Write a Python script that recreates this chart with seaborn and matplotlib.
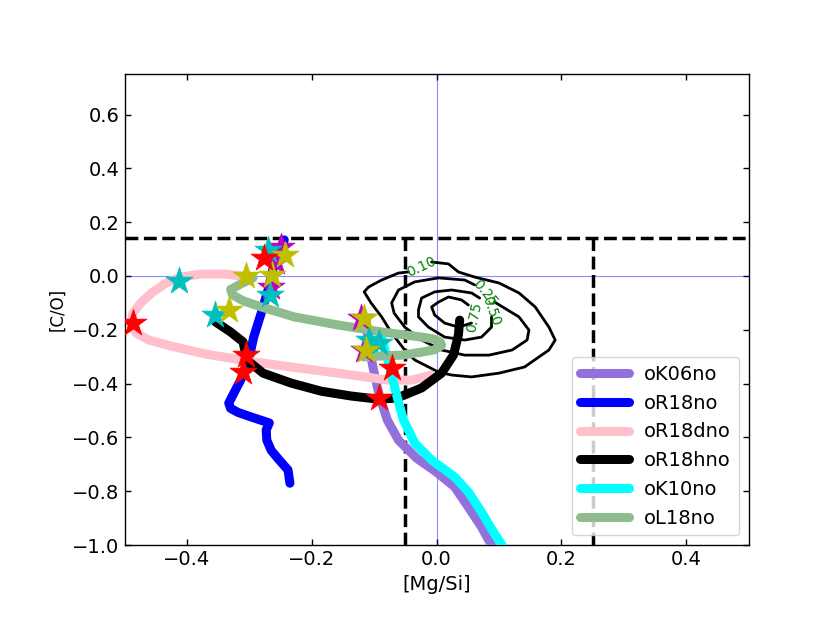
import numpy as np
import pandas as pd
import matplotlib
matplotlib.use("Agg")
import matplotlib.pyplot as plt
import seaborn as sns

# ---------------- data ----------------
oK06no_x = [-0.113, -0.109, -0.101, -0.092, -0.079, -0.061, -0.032, 0.000, 0.029, 0.051, 0.072, 0.088, 0.096]
oK06no_y = [-0.164, -0.257, -0.349, -0.442, -0.535, -0.610, -0.677, -0.729, -0.784, -0.859, -0.933, -1.000, -1.037]

oR18no_x = [-0.244, -0.260, -0.270, -0.281, -0.293, -0.302, -0.314, -0.333, -0.330, -0.318, -0.297, -0.268, -0.273, -0.272, -0.265, -0.252, -0.238, -0.235]
oR18no_y = [0.134, 0.048, -0.052, -0.138, -0.227, -0.323, -0.387, -0.472, -0.492, -0.507, -0.524, -0.546, -0.572, -0.610, -0.648, -0.684, -0.721, -0.770]

oR18dno_x = [-0.297, -0.338, -0.378, -0.410, -0.433, -0.455, -0.474, -0.487, -0.490, -0.481, -0.462, -0.426, -0.370, -0.302, -0.233, -0.158, -0.077, -0.040, -0.008]
oR18dno_y = [-0.004, 0.007, 0.007, -0.004, -0.026, -0.060, -0.100, -0.140, -0.180, -0.212, -0.237, -0.260, -0.290, -0.316, -0.338, -0.361, -0.387, -0.387, -0.368]

oR18hno_x = [-0.354, -0.330, -0.310, -0.304, -0.278, -0.233, -0.185, -0.137, -0.096, -0.064, -0.024, 0.008, 0.027, 0.035, 0.037]
oR18hno_y = [-0.171, -0.208, -0.245, -0.312, -0.361, -0.398, -0.428, -0.446, -0.457, -0.454, -0.416, -0.361, -0.294, -0.219, -0.164]

oK10no_x = [-0.088, -0.076, -0.064, -0.053, -0.035, -0.008, 0.029, 0.051, 0.072, 0.092, 0.105, 0.113]
oK10no_y = [-0.230, -0.331, -0.442, -0.535, -0.621, -0.684, -0.747, -0.803, -0.877, -0.955, -1.000, -1.030]

oL18no_x = [-0.294, -0.314, -0.330, -0.327, -0.310, -0.281, -0.228, -0.158, -0.088, -0.024, -0.005, 0.006, 0.008, -0.003, -0.024, -0.056, -0.088, -0.117]
oL18no_y = [-0.007, -0.030, -0.050, -0.070, -0.092, -0.115, -0.152, -0.182, -0.208, -0.227, -0.234, -0.245, -0.258, -0.274, -0.283, -0.294, -0.297, -0.301]

models = ["oK06no", "oR18no", "oR18dno", "oR18hno", "oK10no", "oL18no"]
model_colors = ["mediumpurple", "blue", "pink", "black", "cyan", "darkseagreen"]
model_x = [oK06no_x, oR18no_x, oR18dno_x, oR18hno_x, oK10no_x, oL18no_x]
model_y = [oK06no_y, oR18no_y, oR18dno_y, oR18hno_y, oK10no_y, oL18no_y]

# star markers
star_m_x = [-0.249, -0.265, -0.121, -0.116, -0.257]
star_m_y = [0.108, -0.041, -0.156, -0.275, 0.052]
star_c_x = [-0.413, -0.355, -0.267, -0.270, -0.109, -0.092]
star_c_y = [-0.019, -0.145, -0.071, 0.097, -0.238, -0.249]
star_y_x = [-0.305, -0.333, -0.243, -0.264, -0.117, -0.113]
star_y_y = [0.000, -0.126, 0.078, 0.004, -0.156, -0.275]
star_r_x = [-0.486, -0.305, -0.310, -0.277, -0.072, -0.093]
star_r_y = [-0.175, -0.294, -0.357, 0.067, -0.342, -0.454]

# density contours (levels 0.10, 0.25, 0.50, 0.75)
c10_x = [-0.008, 0.019, 0.035, 0.061, 0.100, 0.132, 0.158, 0.180, 0.190, 0.180, 0.141, 0.100, 0.056, 0.024,
         0.003, -0.013, -0.035, -0.051, -0.072, -0.088, -0.105, -0.116, -0.109, -0.088, -0.061, -0.045]
c10_y = [0.052, 0.045, 0.015, -0.004, -0.026, -0.063, -0.115, -0.190, -0.238, -0.275, -0.338, -0.361, -0.375, -0.368,
         -0.357, -0.338, -0.312, -0.275, -0.212, -0.152, -0.100, -0.059, -0.041, -0.015, 0.011, 0.015]
c25_x = [0.093, 0.132, 0.148, 0.145, 0.121, 0.084, 0.045, 0.008, -0.024, -0.051, -0.068, -0.072, -0.061, -0.035, 0.003, 0.045, 0.061]
c25_y = [-0.097, -0.152, -0.201, -0.238, -0.275, -0.294, -0.294, -0.275, -0.238, -0.190, -0.138, -0.100, -0.052, -0.022, -0.007, -0.015, -0.033]
c50_x = [0.088, 0.088, 0.072, 0.045, 0.013, -0.013, -0.029, -0.029, -0.024, -0.003, 0.024, 0.056, 0.069]
c50_y = [-0.152, -0.190, -0.227, -0.238, -0.227, -0.190, -0.152, -0.126, -0.082, -0.059, -0.052, -0.063, -0.082]
c75_x = [0.056, 0.035, 0.013, -0.003, -0.008, 0.003, 0.019, 0.040, 0.051]
c75_y = [-0.175, -0.190, -0.175, -0.145, -0.115, -0.097, -0.078, -0.089, -0.108]
contour_labels = ["0.10", "0.25", "0.50", "0.75"]
contour_label_x = [-0.024, 0.077, 0.088, 0.061]
contour_label_y = [0.033, -0.063, -0.130, -0.152]
contour_label_rot = [25, -50, -70, 78]

# reference limits
co_limit = 0.14
mgsi_limits = [-0.05, 0.25]

# ---------------- plot ----------------
sns.set_style("ticks")
plt.rcParams['font.family'] = ['DejaVu Sans']
plt.rcParams.update({
    "axes.edgecolor": "black", "axes.labelcolor": "black", "text.color": "black",
    "xtick.color": "black", "ytick.color": "black", "axes.linewidth": 1.0,
})

fig, ax = plt.subplots(figsize=(8.3, 6.23), dpi=100)
fig.subplots_adjust(left=0.15, right=0.902, top=0.881, bottom=0.125)

ax.axhline(0, color="blue", lw=0.8, alpha=0.45, zorder=1)
ax.axvline(0, color="blue", lw=0.8, alpha=0.45, zorder=1)

for cx, cy in [(c10_x, c10_y), (c25_x, c25_y), (c50_x, c50_y), (c75_x, c75_y)]:
    ax.plot(cx, cy, color="black", lw=2, zorder=2)
for lab, lx, ly, rot in zip(contour_labels, contour_label_x, contour_label_y, contour_label_rot):
    ax.text(lx, ly, lab, color="green", fontsize=10, rotation=rot, ha="center", va="center", zorder=2)

ax.axhline(co_limit, color="black", lw=2.5, ls="--", zorder=3)
for xv in mgsi_limits:
    ax.plot([xv, xv], [-1.0, co_limit], color="black", lw=2.5, ls="--", zorder=3)

for name, col, xs, ys in zip(models, model_colors, model_x, model_y):
    df = pd.DataFrame({"x": xs, "y": ys})
    sns.lineplot(data=df, x="x", y="y", sort=False, estimator=None, color=col,
                 lw=6.5, label=name, ax=ax, zorder=4)

for sx, sy, col in [(star_m_x, star_m_y, "m"), (star_c_x, star_c_y, "c"),
                    (star_y_x, star_y_y, "y"), (star_r_x, star_r_y, "r")]:
    sns.scatterplot(x=sx, y=sy, marker="*", s=420, color=col, edgecolor=col,
                    linewidth=0.5, ax=ax, zorder=5, legend=False)

ax.set_xlim(-0.5, 0.5)
ax.set_ylim(-1.0, 0.75)
ax.set_xticks([-0.4, -0.2, 0.0, 0.2, 0.4])
ax.set_yticks([-1.0, -0.8, -0.6, -0.4, -0.2, 0.0, 0.2, 0.4, 0.6])
ax.tick_params(direction="in", top=True, right=True, labelsize=14, length=4, width=1)
ax.set_xlabel("[Mg/Si]", fontsize=14)
ax.set_ylabel("[C/O]", fontsize=12)

ax.legend(loc="lower right", fontsize=14, handlelength=2.5)

fig.savefig("out.png", dpi=100)
